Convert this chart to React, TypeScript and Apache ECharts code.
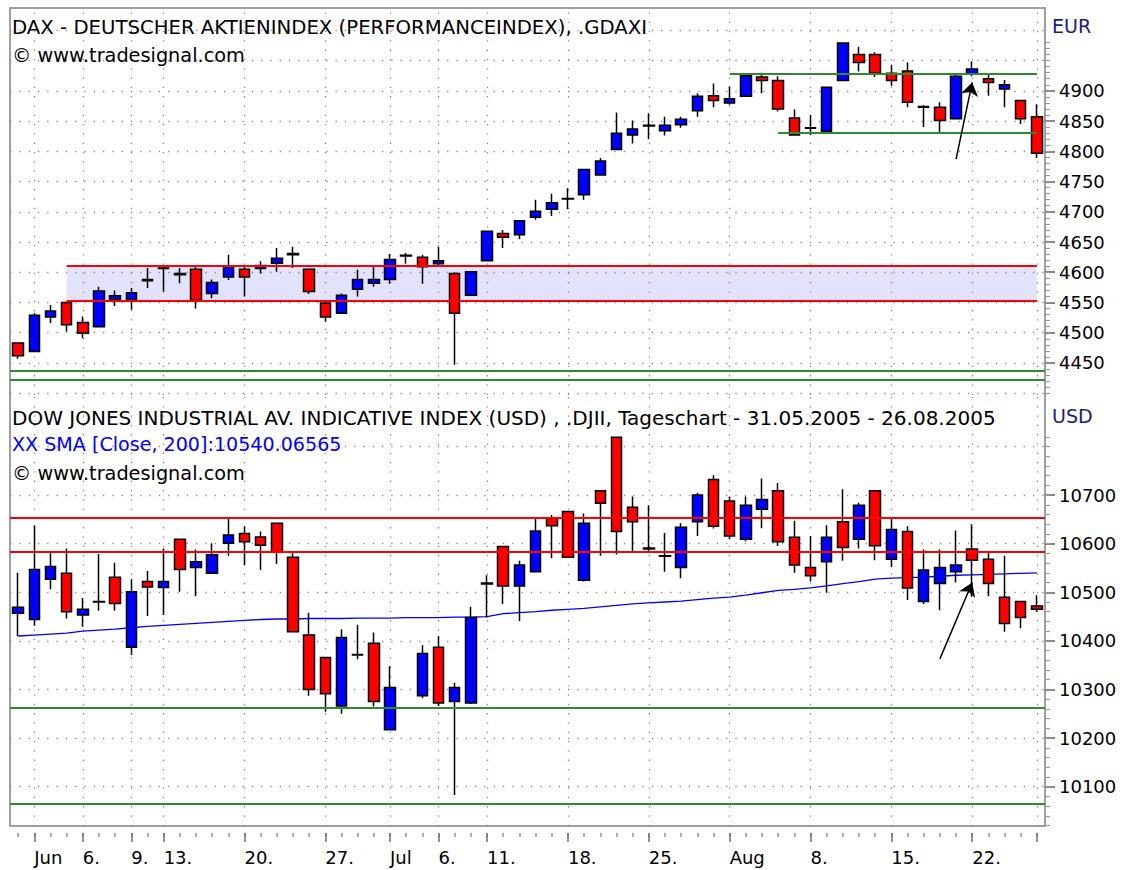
import React, { useEffect, useRef } from 'react';
import * as echarts from 'echarts';

const dates = [
  '2005-05-31',
  '2005-06-01', '2005-06-02', '2005-06-03', '2005-06-06', '2005-06-07', '2005-06-08', '2005-06-09', '2005-06-10',
  '2005-06-13', '2005-06-14', '2005-06-15', '2005-06-16', '2005-06-17',
  '2005-06-20', '2005-06-21', '2005-06-22', '2005-06-23', '2005-06-24',
  '2005-06-27', '2005-06-28', '2005-06-29', '2005-06-30', '2005-07-01',
  '2005-07-04', '2005-07-05', '2005-07-06', '2005-07-07', '2005-07-08',
  '2005-07-11', '2005-07-12', '2005-07-13', '2005-07-14', '2005-07-15',
  '2005-07-18', '2005-07-19', '2005-07-20', '2005-07-21', '2005-07-22',
  '2005-07-25', '2005-07-26', '2005-07-27', '2005-07-28', '2005-07-29',
  '2005-08-01', '2005-08-02', '2005-08-03', '2005-08-04', '2005-08-05',
  '2005-08-08', '2005-08-09', '2005-08-10', '2005-08-11', '2005-08-12',
  '2005-08-15', '2005-08-16', '2005-08-17', '2005-08-18', '2005-08-19',
  '2005-08-22', '2005-08-23', '2005-08-24', '2005-08-25', '2005-08-26',
];

const xTickDates = [
  '2005-06-01', '2005-06-06', '2005-06-09', '2005-06-13', '2005-06-20', '2005-06-27',
  '2005-07-01', '2005-07-06', '2005-07-11', '2005-07-18', '2005-07-25',
  '2005-08-01', '2005-08-08', '2005-08-15', '2005-08-22', '2005-08-26',
];
const xTickLabels = ['Jun', '6.', '9.', '13.', '20.', '27.', 'Jul', '6.', '11.', '18.', '25.', 'Aug', '8.', '15.', '22.', ''];

// DAX: [open, close, low, high]
const daxOHLC = [
  [4483, 4462, 4457, 4484], [4469, 4529, 4468, 4532], [4526, 4536, 4516, 4546], [4550, 4513, 4502, 4551],
  [4517, 4499, 4491, 4527], [4510, 4569, 4509, 4576], [4555, 4561, 4544, 4570], [4555, 4566, 4538, 4574],
  [4586, 4588, 4574, 4607], [4606, 4607, 4568, 4611], [4596, 4598, 4582, 4607], [4605, 4554, 4540, 4609],
  [4565, 4583, 4557, 4588], [4592, 4609, 4587, 4629], [4605, 4592, 4560, 4609], [4606, 4611, 4598, 4618],
  [4615, 4623, 4601, 4640], [4629, 4631, 4607, 4642], [4605, 4568, 4564, 4606], [4549, 4526, 4518, 4551],
  [4532, 4562, 4531, 4565], [4572, 4588, 4560, 4604], [4582, 4588, 4576, 4611], [4588, 4621, 4581, 4630],
  [4627, 4628, 4614, 4632], [4625, 4609, 4581, 4629], [4614, 4619, 4612, 4642], [4598, 4532, 4447, 4600],
  [4562, 4601, 4561, 4602], [4619, 4668, 4618, 4669], [4664, 4658, 4640, 4670], [4662, 4685, 4655, 4686],
  [4691, 4701, 4687, 4720], [4704, 4715, 4693, 4730], [4721, 4722, 4704, 4739], [4728, 4770, 4720, 4771],
  [4761, 4784, 4760, 4789], [4803, 4830, 4802, 4864], [4827, 4837, 4813, 4851], [4842, 4843, 4820, 4863],
  [4834, 4843, 4826, 4857], [4844, 4853, 4839, 4857], [4867, 4891, 4857, 4896], [4892, 4884, 4873, 4912],
  [4880, 4887, 4877, 4907], [4891, 4925, 4890, 4926], [4923, 4917, 4896, 4930], [4917, 4870, 4866, 4924],
  [4855, 4827, 4826, 4869], [4838, 4839, 4827, 4860], [4833, 4906, 4832, 4907], [4917, 4979, 4916, 4980],
  [4960, 4947, 4932, 4973], [4960, 4929, 4923, 4964], [4929, 4917, 4908, 4943], [4933, 4881, 4873, 4947],
  [4873, 4874, 4840, 4876], [4873, 4851, 4831, 4881], [4854, 4924, 4853, 4929], [4928, 4936, 4924, 4949],
  [4920, 4914, 4892, 4928], [4903, 4910, 4873, 4918], [4884, 4854, 4845, 4885], [4857, 4797, 4789, 4878],
];

// Dow Jones: [open, close, low, high]; Jul 4 no trading
const djiOHLC = [
  [10457, 10469, 10410, 10540], [10444, 10547, 10431, 10638], [10527, 10553, 10506, 10583], [10539, 10460, 10446, 10590],
  [10453, 10465, 10429, 10488], [10480, 10481, 10462, 10579], [10531, 10477, 10462, 10561], [10387, 10501, 10371, 10527],
  [10522, 10511, 10451, 10544], [10510, 10522, 10453, 10590], [10609, 10547, 10501, 10610], [10551, 10563, 10492, 10588],
  [10539, 10577, 10538, 10601], [10601, 10618, 10575, 10652], [10621, 10604, 10556, 10636], [10614, 10597, 10546, 10625],
  [10642, 10583, 10558, 10643], [10572, 10419, 10418, 10581], [10412, 10300, 10287, 10458], [10366, 10291, 10254, 10367],
  [10266, 10407, 10250, 10424], [10372, 10371, 10362, 10433], [10395, 10275, 10265, 10417], [10217, 10304, 10216, 10348],
  '-', [10287, 10374, 10282, 10391], [10387, 10272, 10266, 10410], [10275, 10304, 10083, 10314],
  [10272, 10448, 10270, 10470], [10517, 10519, 10448, 10535], [10594, 10513, 10476, 10595], [10513, 10556, 10441, 10565],
  [10542, 10626, 10541, 10652], [10652, 10637, 10570, 10659], [10666, 10572, 10571, 10667], [10525, 10642, 10522, 10662],
  [10709, 10683, 10575, 10710], [10819, 10625, 10578, 10820], [10675, 10645, 10583, 10697], [10591, 10589, 10585, 10679],
  [10575, 10574, 10542, 10622], [10551, 10634, 10529, 10642], [10645, 10700, 10616, 10705], [10732, 10636, 10631, 10741],
  [10688, 10616, 10609, 10697], [10609, 10679, 10605, 10697], [10671, 10691, 10632, 10734], [10709, 10604, 10595, 10725],
  [10613, 10556, 10540, 10647], [10551, 10534, 10522, 10616], [10563, 10613, 10499, 10638], [10645, 10592, 10565, 10712],
  [10609, 10679, 10590, 10684], [10709, 10596, 10566, 10710], [10568, 10629, 10552, 10655], [10625, 10509, 10484, 10636],
  [10481, 10546, 10476, 10588], [10518, 10551, 10463, 10588], [10542, 10556, 10520, 10627], [10589, 10566, 10491, 10640],
  [10568, 10518, 10492, 10581], [10490, 10436, 10419, 10575], [10481, 10448, 10426, 10482], [10472, 10465, 10460, 10494],
];

const djiSma = [
  10410, 10412, 10414, 10416, 10420, 10422, 10424, 10427, 10430, 10432,
  10434, 10436, 10438, 10440, 10442, 10444, 10445, 10445, 10446, 10446,
  10446, 10447, 10447, 10447, 10448, 10448, 10448, 10449, 10449, 10450,
  10456, 10458, 10460, 10463, 10465, 10467, 10470, 10473, 10476, 10478,
  10480, 10482, 10485, 10488, 10490, 10494, 10499, 10504, 10506, 10509,
  10513, 10518, 10522, 10527, 10529, 10530, 10531, 10533, 10535, 10536,
  10537, 10538, 10539, 10540,
];

const daxLabelValues = [4450, 4500, 4550, 4600, 4650, 4700, 4750, 4800, 4850, 4900];
const daxGridValues = [4400, 4450, 4500, 4550, 4600, 4650, 4700, 4750, 4800, 4850, 4900, 4950, 5000];
const djiLabelValues = [10100, 10200, 10300, 10400, 10500, 10600, 10700];
const djiGridValues = [10100, 10200, 10300, 10400, 10500, 10600, 10700, 10800];

const daxBand = [4553, 4610];
const daxResistance = [4928, 4831];
const daxSupport = [4437, 4423];
const djiRed = [10654, 10583];
const djiGreen = [10263, 10064];

const DAX_MIN = 4397, DAX_MAX = 5037;
const DJI_MIN = 10019, DJI_MAX = 10906;

const texts = {
  daxTitle: 'DAX - DEUTSCHER AKTIENINDEX (PERFORMANCEINDEX), .GDAXI',
  url: '\u00A9 www.tradesignal.com',
  djiTitle: 'DOW JONES INDUSTRIAL AV. INDICATIVE INDEX (USD) , .DJII, Tageschart - 31.05.2005 - 26.08.2005',
  sma: 'XX SMA [Close, 200]:10540.06565',
};

const FONT = 'DejaVu Sans';
const GREY = '#a0a0a0';
const RED = '#ff0000';
const GREEN = '#2a8c2a';

function minorValues(from: number, to: number, step: number) {
  const out: number[] = [];
  for (let v = from; v <= to; v += step) out.push(v);
  return out;
}

export default function App() {
  const ref = useRef<HTMLDivElement>(null);
  useEffect(() => {
    document.body.style.margin = '0';
    const chart = echarts.init(ref.current!, null, { renderer: 'svg' });
    const isMajor = (_i: number, v: string) => xTickDates.indexOf(v) >= 0;
    const gridLineStyle = { color: '#8a8a8a', width: 1.3, type: [1.3, 8] as any };
    const vLines = xTickDates.map((d) => ({ xAxis: d }));
    const line = (v: number, color: string, width: number) => ({ yAxis: v, lineStyle: { color, width, type: 'solid' } });
    const seg = (i0: number, i1: number, v: number, color: string, width: number) => [
      { coord: [dates[i0], v], lineStyle: { color, width, type: 'solid' } },
      { coord: [dates[i1], v] },
    ];
    const arrow = (i0: number, v0: number, i1: number, v1: number) => [
      { coord: [dates[i0], v0], symbol: 'none', lineStyle: { color: '#000', width: 1.5, type: 'solid' } },
      { coord: [dates[i1], v1], symbol: 'arrow', symbolSize: 13 },
    ];
    const plain = (v: number) => String(v);
    const yBase = (grid: number, min: number, max: number) => ({ gridIndex: grid, type: 'value', min, max, scale: true });
    const option: any = {
      animation: false,
      textStyle: { fontFamily: FONT },
      grid: [
        { left: 10, right: 77, top: 8, height: 387 },
        { left: 10, right: 77, top: 395, height: 431 },
      ],
      xAxis: [
        { gridIndex: 0, type: 'category', data: dates, position: 'top', boundaryGap: true,
          axisLine: { show: true, lineStyle: { color: GREY, width: 2 } }, axisTick: { show: false }, axisLabel: { show: false }, splitLine: { show: false } },
        { gridIndex: 1, type: 'category', data: dates, position: 'bottom', boundaryGap: true,
          axisLine: { show: true, lineStyle: { color: GREY, width: 2 } }, axisTick: { show: false }, axisLabel: { show: false }, splitLine: { show: false } },
        { gridIndex: 1, type: 'category', data: dates, position: 'bottom', offset: 7, boundaryGap: true,
          axisLine: { show: false }, axisTick: { show: true, interval: 0, alignWithLabel: true, length: 4, lineStyle: { color: '#909090', width: 1.5 } },
          axisLabel: { show: false }, splitLine: { show: false } },
        { gridIndex: 1, type: 'category', data: dates, position: 'bottom', offset: 7, boundaryGap: true,
          axisLine: { show: false }, axisTick: { show: true, interval: isMajor, alignWithLabel: true, length: 9, lineStyle: { color: '#707070', width: 1.5 } },
          axisLabel: { show: true, interval: isMajor, align: 'left', margin: 15, fontSize: 18, color: '#000', fontFamily: FONT,
            formatter: (v: string) => { const k = xTickDates.indexOf(v); return k >= 0 ? xTickLabels[k] : ''; } },
          splitLine: { show: false } },
      ],
      yAxis: [
        { ...yBase(0, DAX_MIN, DAX_MAX), position: 'right',
          axisLine: { show: true, lineStyle: { color: GREY, width: 2 } },
          axisTick: { show: true, customValues: daxLabelValues, length: 10, lineStyle: { color: '#606060', width: 1.5 } },
          axisLabel: { show: true, customValues: daxLabelValues, formatter: plain, margin: 14, fontSize: 18, color: '#000', fontFamily: FONT },
          splitLine: { show: false } },
        { ...yBase(0, DAX_MIN, DAX_MAX), position: 'right', axisLine: { show: false },
          axisTick: { show: true, customValues: minorValues(4400, 4980, 10), length: 5, lineStyle: { color: '#9a9a9a', width: 1.2 } },
          axisLabel: { show: false }, splitLine: { show: false } },
        { ...yBase(0, DAX_MIN, DAX_MAX), position: 'left', axisLine: { show: true, lineStyle: { color: GREY, width: 2 } },
          axisTick: { show: false }, axisLabel: { show: false }, splitLine: { show: false } },
        { ...yBase(1, DJI_MIN, DJI_MAX), position: 'right',
          axisLine: { show: true, lineStyle: { color: GREY, width: 2 } },
          axisTick: { show: true, customValues: djiLabelValues, length: 10, lineStyle: { color: '#606060', width: 1.5 } },
          axisLabel: { show: true, customValues: djiLabelValues, formatter: plain, margin: 14, fontSize: 18, color: '#000', fontFamily: FONT },
          splitLine: { show: false } },
        { ...yBase(1, DJI_MIN, DJI_MAX), position: 'right', axisLine: { show: false },
          axisTick: { show: true, customValues: minorValues(10020, 10820, 20), length: 5, lineStyle: { color: '#9a9a9a', width: 1.2 } },
          axisLabel: { show: false }, splitLine: { show: false } },
        { ...yBase(1, DJI_MIN, DJI_MAX), position: 'left', axisLine: { show: true, lineStyle: { color: GREY, width: 2 } },
          axisTick: { show: false }, axisLabel: { show: false }, splitLine: { show: false } },
      ],
      series: [
        { type: 'line', xAxisIndex: 0, yAxisIndex: 0, data: [], z: 1, silent: true,
          markLine: { silent: true, symbol: ['none', 'none'], label: { show: false }, lineStyle: gridLineStyle, z: 1,
            data: [...daxGridValues.map((v) => ({ yAxis: v })), ...vLines] } },
        { type: 'line', xAxisIndex: 1, yAxisIndex: 3, data: [], z: 1, silent: true,
          markLine: { silent: true, symbol: ['none', 'none'], label: { show: false }, lineStyle: gridLineStyle, z: 1,
            data: [...djiGridValues.map((v) => ({ yAxis: v })), ...vLines] } },
        { type: 'candlestick', name: 'DAX', xAxisIndex: 0, yAxisIndex: 0, data: daxOHLC, barWidth: 11, z: 3,
          itemStyle: { color: '#0000ff', color0: '#ff0000', borderColor: '#000', borderColor0: '#000', borderWidth: 1.5 },
          markArea: { silent: true, z: 0, itemStyle: { color: '#e2e2fa' },
            data: [[{ coord: [dates[3], daxBand[0]] }, { coord: [dates[63], daxBand[1]] }]] },
          markLine: { silent: true, symbol: ['none', 'none'], label: { show: false }, z: 5,
            data: [
              seg(3, 63, daxBand[1], RED, 1.8), seg(3, 63, daxBand[0], RED, 1.8),
              seg(44, 63, daxResistance[0], GREEN, 2), seg(47, 63, daxResistance[1], GREEN, 2),
              line(daxSupport[0], GREEN, 2), line(daxSupport[1], GREEN, 2),
              arrow(58, 4787, 59, 4914),
            ] } },
        { type: 'line', name: 'SMA', xAxisIndex: 1, yAxisIndex: 3, data: djiSma, symbol: 'none', z: 2,
          lineStyle: { color: '#0000ff', width: 1.3 } },
        { type: 'candlestick', name: 'DJI', xAxisIndex: 1, yAxisIndex: 3, data: djiOHLC, barWidth: 11, z: 3,
          itemStyle: { color: '#0000ff', color0: '#ff0000', borderColor: '#000', borderColor0: '#000', borderWidth: 1.5 },
          markLine: { silent: true, symbol: ['none', 'none'], label: { show: false }, z: 5,
            data: [
              line(djiRed[0], RED, 1.8), line(djiRed[1], RED, 1.8),
              line(djiGreen[0], GREEN, 2), line(djiGreen[1], GREEN, 2),
              arrow(57, 10363, 59, 10520),
            ] } },
      ],
      graphic: [
        { type: 'text', x: 12, y: 27.5, z: 10, style: { text: texts.daxTitle, fontSize: 19.7, fontFamily: FONT, fill: '#000', verticalAlign: 'middle' } },
        { type: 'text', x: 12, y: 55, z: 10, style: { text: texts.url, fontSize: 19.3, fontFamily: FONT, fill: '#000', verticalAlign: 'middle' } },
        { type: 'text', x: 12, y: 417.5, z: 10, style: { text: texts.djiTitle, fontSize: 20, fontFamily: FONT, fill: '#000', verticalAlign: 'middle' } },
        { type: 'text', x: 12, y: 444, z: 10, style: { text: texts.sma, fontSize: 19.1, fontFamily: FONT, fill: '#0000ff', verticalAlign: 'middle' } },
        { type: 'text', x: 12, y: 473, z: 10, style: { text: texts.url, fontSize: 19.3, fontFamily: FONT, fill: '#000', verticalAlign: 'middle' } },
        { type: 'text', x: 1052, y: 26, z: 10, style: { text: 'EUR', fontSize: 19, fontFamily: FONT, fill: '#1c1c80', verticalAlign: 'middle' } },
        { type: 'text', x: 1052, y: 415.5, z: 10, style: { text: 'USD', fontSize: 19, fontFamily: FONT, fill: '#1c1c80', verticalAlign: 'middle' } },
      ],
    };
    chart.setOption(option);
    return () => chart.dispose();
  }, []);
  return <div ref={ref} style={{ width: 1122, height: 870, background: '#fff' }} />;
}
